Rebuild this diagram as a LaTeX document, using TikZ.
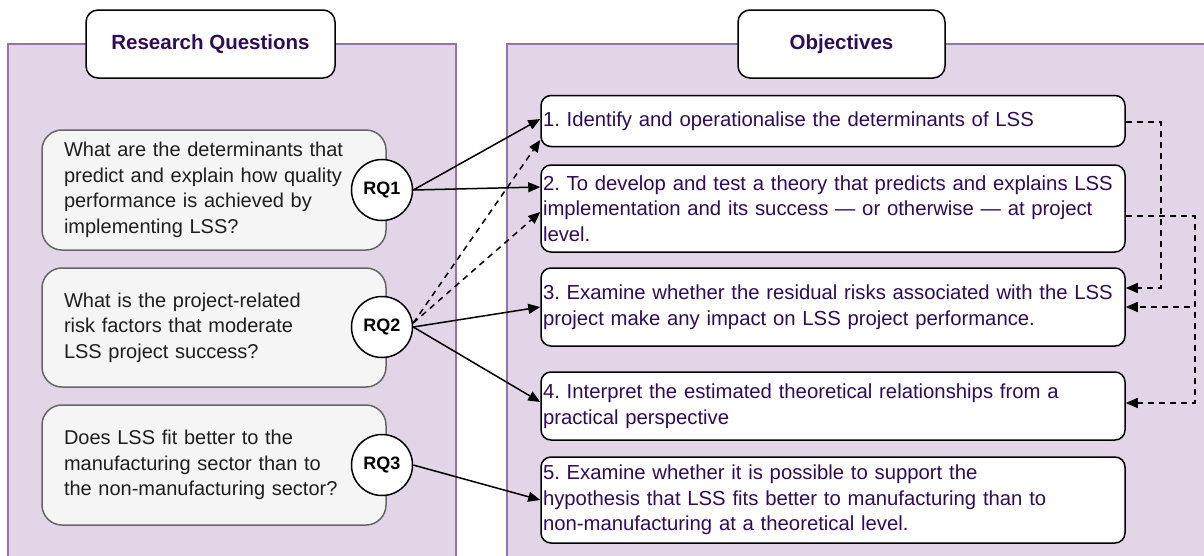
\documentclass[tikz,border=0pt]{standalone}
\usepackage{fontspec}
\setmainfont{Liberation Sans}
\usetikzlibrary{arrows.meta}
\definecolor{panelfill}{HTML}{E1D5E7}
\definecolor{panelline}{HTML}{9673A6}
\definecolor{qfill}{HTML}{F5F5F5}
\definecolor{qline}{HTML}{666666}
\definecolor{objtext}{HTML}{300B57}
\definecolor{qtext}{HTML}{1E1E1E}

\tikzset{
  panel/.style={fill=panelfill, draw=panelline, line width=1.5pt},
  header/.style={draw=black, fill=white, line width=1.5pt, rounded corners=12pt,
    minimum height=68pt, inner sep=0pt, text=objtext,
    font=\fontsize{20.5}{24}\selectfont\bfseries},
  qbox/.style={draw=qline, fill=qfill, line width=1.5pt, rounded corners=20pt,
    minimum width=344pt, text width=300pt, inner xsep=22pt, inner ysep=0pt,
    align=left, text=qtext, font=\fontsize{20}{25.5}\selectfont},
  rqcirc/.style={circle, draw=black, fill=white, line width=1.5pt,
    minimum size=61pt, inner sep=0pt, font=\fontsize{18}{22}\selectfont\bfseries},
  objbox/.style={draw=black, fill=white, line width=1.5pt, rounded corners=10pt,
    minimum width=584pt, text width=580pt, inner xsep=2pt, inner ysep=0pt,
    align=left, text=objtext, font=\fontsize{20.3}{25.5}\selectfont},
  link/.style={line width=1.5pt, -{Triangle[length=12pt,width=10pt]}},
  dlink/.style={link, dash pattern=on 6pt off 5pt},
}

\begin{document}
\frenchspacing
\begin{tikzpicture}[x=1pt, y=-1pt]
\useasboundingbox (0,0) rectangle (1204,555);
\clip (0,0) rectangle (1204,555);

% background panels
\filldraw[panel] (8,44) rectangle (456,600);
\filldraw[panel] (507,44) rectangle (1240,600);

% panel headers
\node[header, minimum width=249pt] (hq) at (210.5,44) {Research Questions};
\node[header, minimum width=207pt] (ho) at (841.5,44) {Objectives};

% research questions
\node[qbox, minimum height=120pt] (q1) at (214,190)
  {What are the determinants that\\predict and explain how quality\\performance is achieved by\\implementing LSS?};
\node[qbox, minimum height=119pt] (q2) at (214,327.5)
  {What is the project-related\\risk factors that moderate\\LSS project success?};
\node[qbox, minimum height=120pt] (q3) at (214,465)
  {Does LSS fit better to the\\manufacturing sector than to\\the non-manufacturing sector?};

\node[rqcirc] (c1) at (382,190) {RQ1};
\node[rqcirc] (c2) at (382,327) {RQ2};
\node[rqcirc] (c3) at (382,465) {RQ3};

% objectives
\node[objbox, minimum height=51pt] (o1) at (833,121)
  {1. Identify and operationalise the determinants of LSS};
\node[objbox, minimum height=87pt] (o2) at (833,208.5)
  {2. To develop and test a theory that predicts and explains LSS\\implementation and its success — or otherwise — at project\\level.};
\node[objbox, minimum height=78pt] (o3) at (833,307)
  {3. Examine whether the residual risks associated with the LSS\\project make any impact on LSS project performance.};
\node[objbox, minimum height=68pt] (o4) at (833,406)
  {4. Interpret the estimated theoretical relationships from a\\practical perspective};
\node[objbox, minimum height=86pt] (o5) at (833,500)
  {5. Examine whether it is possible to support the\\hypothesis that LSS fits better to manufacturing than to\\non-manufacturing at a theoretical level.};

% question -> objective links
\draw[link] (c1.east) -- ([yshift=2pt]o1.west);
\draw[link] (c1.east) -- ([yshift=21.5pt]o2.west);
\draw[dlink] ([yshift=4pt]c2.east) -- ([yshift=-19pt]o1.west);
\draw[dlink] ([yshift=4pt]c2.east) -- ([yshift=-3.5pt]o2.west);
\draw[link] (c2.east) -- (o3.west);
\draw[link] (c2.east) -- ([yshift=4pt]o4.west);
\draw[link] (c3.east) -- (o5.west);

% objective -> objective links
\draw[dlink] ([yshift=-1pt]o1.east) -- ++(35,0) |- ([yshift=19pt]o3.east);
\draw[dlink] ([yshift=-7.5pt]o2.east) -- ++(69,0) |- (o3.east);
\draw[dlink] ([yshift=-7.5pt]o2.east) -- ++(69,0) |- ([yshift=3pt]o4.east);
\end{tikzpicture}
\end{document}
